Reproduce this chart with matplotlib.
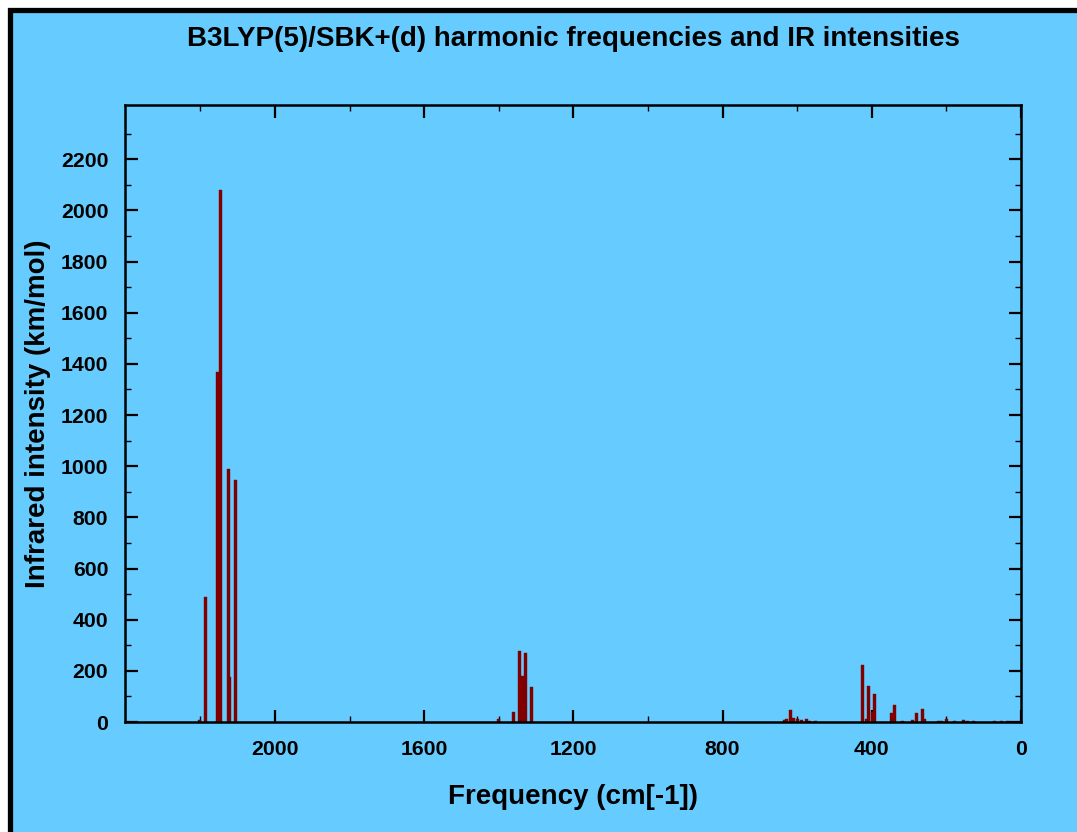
import matplotlib
matplotlib.use("Agg")
import matplotlib.pyplot as plt
from matplotlib.patches import Rectangle
from matplotlib.ticker import FixedLocator

plt.rcParams['font.family'] = ['Liberation Sans', 'DejaVu Sans']

# Harmonic frequencies (cm^-1) and IR intensities (km/mol)
freqs = [2201, 2185, 2153, 2145, 2125, 2121, 2106,
         1402, 1361, 1345, 1336, 1332, 1328, 1313,
         635, 628, 619, 610, 598, 589, 575, 568, 550,
         426, 413, 408, 399, 393, 348, 340, 317,
         291, 280, 264, 258, 222, 212, 199, 179,
         155, 143, 128, 71, 52, 35]
intens = [8, 490, 1370, 2080, 990, 175, 945,
          10, 40, 278, 180, 150, 271, 136,
          8, 13, 46, 15, 10, 6, 10, 5, 3,
          222, 12, 140, 40, 108, 34, 68, 3,
          8, 34, 50, 12, 5, 5, 10, 3,
          8, 3, 3, 2, 2, 2]

x_major = [2000, 1600, 1200, 800, 400, 0]
x_minor = [2200, 1800, 1400, 1000, 600, 200]
y_major = [0, 200, 400, 600, 800, 1000, 1200, 1400, 1600, 1800, 2000, 2200]
y_minor = [100, 300, 500, 700, 900, 1100, 1300, 1500, 1700, 1900, 2100, 2300]

title = "B3LYP(5)/SBK+(d) harmonic frequencies and IR intensities"
xlabel = "Frequency (cm[-1])"
ylabel = "Infrared intensity (km/mol)"

bg = "#66CCFF"
W, H = 1077, 832
fig = plt.figure(figsize=(W / 100, H / 100), dpi=100, facecolor="white")

# outer framed panel
fig.patches.append(Rectangle((10 / W, -0.1), 1.2, 1 - 10 / H + 0.1,
                             transform=fig.transFigure, facecolor=bg,
                             edgecolor="black", linewidth=3.8, zorder=-5))

ax = fig.add_axes([125 / W, 1 - 722 / H, 896 / W, 617 / H])
ax.set_zorder(2)
ax.set_facecolor(bg)
ax.bar(freqs, intens, width=8, color="#800000", edgecolor="#800000",
       linewidth=0.3, align="center", zorder=2)

ax.set_xlim(2402, 0)
ax.set_ylim(0, 2412)
ax.xaxis.set_major_locator(FixedLocator(x_major))
ax.xaxis.set_minor_locator(FixedLocator(x_minor))
ax.yaxis.set_major_locator(FixedLocator(y_major))
ax.yaxis.set_minor_locator(FixedLocator(y_minor))

ax.tick_params(which="both", direction="in", top=True, right=True,
               labelsize=15.3)
ax.tick_params(axis="x", which="major", pad=13)
ax.tick_params(axis="y", which="major", pad=12)
ax.tick_params(which="major", length=9, width=1.6)
ax.tick_params(which="minor", length=4, width=1.0)
for lab in ax.get_xticklabels() + ax.get_yticklabels():
    lab.set_fontweight("bold")
for s in ax.spines.values():
    s.set_linewidth(1.8)

ax.set_xlabel(xlabel, fontsize=20, fontweight="bold", labelpad=18)
ax.set_ylabel(ylabel, fontsize=20, fontweight="bold", labelpad=7)
fig.text(573.5 / W, 1 - 39 / H, title, ha="center", va="center",
         fontsize=20, fontweight="bold", zorder=3)

fig.savefig("out.png", dpi=100, facecolor=fig.get_facecolor())
